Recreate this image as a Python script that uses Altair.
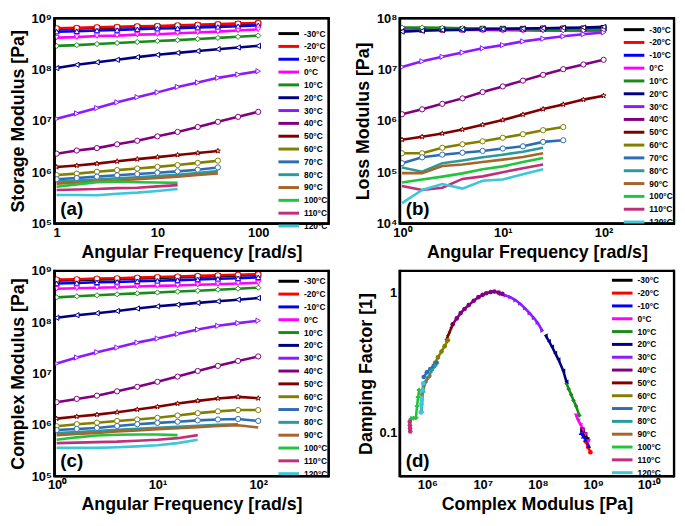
import altair as alt
import pandas as pd

FONT = "Liberation Sans"

temps = ["-30°C", "-20°C", "-10°C", "0°C", "10°C", "20°C", "30°C", "40°C",
         "50°C", "60°C", "70°C", "80°C", "90°C", "100°C", "110°C", "120°C"]
colors = ["#000000", "#ff0000", "#0000ff", "#ff00ff", "#1a8a1a", "#000080",
          "#8c1aff", "#800080", "#800000", "#808000", "#2e6db4", "#2a9a9a",
          "#a8652a", "#22c43c", "#c0307a", "#3cc8d8"]
STAR = "M0,-1L0.224,-0.309L0.951,-0.309L0.363,0.118L0.588,0.809L0,0.382L-0.588,0.809L-0.363,0.118L-0.951,-0.309L-0.224,-0.309Z"
shapes = ["square", "circle", "triangle-up", "triangle-down", "diamond", "triangle-left",
          "triangle-right", "circle", STAR, "circle", "circle", "cross", STAR, "cross",
          "circle", "circle"]
n_marked = 11  # series drawn with hollow markers in panels a-c

# angular frequency [rad/s]
freq = [1.0, 1.585, 2.512, 3.981, 6.310, 10.0, 15.85, 25.12, 39.81, 63.10, 100.0]

# (a) storage modulus [Pa]
storage = [
    [6.2e8, 6.3e8, 6.5e8, 6.6e8, 6.8e8, 6.9e8, 7.1e8, 7.3e8, 7.5e8, 7.7e8, 7.9e8],
    [6.4e8, 6.5e8, 6.7e8, 6.8e8, 7.0e8, 7.1e8, 7.3e8, 7.5e8, 7.7e8, 7.9e8, 8.1e8],
    [5.5e8, 5.6e8, 5.8e8, 5.9e8, 6.1e8, 6.3e8, 6.4e8, 6.6e8, 6.8e8, 7.0e8, 7.3e8],
    [4.2e8, 4.3e8, 4.5e8, 4.6e8, 4.8e8, 4.9e8, 5.1e8, 5.3e8, 5.5e8, 5.8e8, 6.1e8],
    [2.9e8, 3.0e8, 3.15e8, 3.3e8, 3.45e8, 3.6e8, 3.75e8, 3.95e8, 4.15e8, 4.35e8, 4.6e8],
    [1.07e8, 1.24e8, 1.39e8, 1.55e8, 1.75e8, 1.94e8, 2.12e8, 2.3e8, 2.5e8, 2.7e8, 2.9e8],
    [1.1e7, 1.4e7, 1.78e7, 2.3e7, 2.9e7, 3.6e7, 4.6e7, 5.6e7, 6.9e7, 8.0e7, 9.3e7],
    [2.3e6, 2.65e6, 2.95e6, 3.5e6, 4.1e6, 5.0e6, 6.1e6, 7.6e6, 9.6e6, 1.2e7, 1.5e7],
    [1.26e6, 1.35e6, 1.47e6, 1.63e6, 1.8e6, 1.97e6, 2.17e6, 2.37e6, 2.6e6],
    [8.8e5, 9.4e5, 1.02e6, 1.1e6, 1.18e6, 1.27e6, 1.38e6, 1.52e6, 1.68e6],
    [7.3e5, 7.7e5, 8.2e5, 8.7e5, 9.2e5, 9.8e5, 1.04e6, 1.12e6, 1.24e6],
    [6.6e5, 6.9e5, 7.2e5, 7.6e5, 8.0e5, 8.4e5, 8.9e5, 9.6e5, 1.05e6],
    [6.0e5, 6.3e5, 6.6e5, 6.9e5, 7.3e5, 7.7e5, 8.2e5, 8.8e5, 9.5e5],
    [5.2e5, 5.8e5, 6.4e5, 6.5e5, 6.4e5, 6.3e5, 6.2e5],
    [4.5e5, 4.6e5, 4.7e5, 4.9e5, 5.0e5, 5.3e5, 5.6e5],
    [3.6e5, 3.6e5, 3.55e5, 3.8e5, 4.0e5, 4.3e5, 4.7e5],
]

# (b) loss modulus [Pa]
loss = [
    [6.0e7, 6.0e7, 6.1e7, 6.1e7, 6.2e7, 6.2e7, 6.2e7, 6.3e7, 6.3e7, 6.3e7, 6.4e7],
    [5.9e7, 5.9e7, 5.9e7, 6.0e7, 6.0e7, 6.0e7, 6.0e7, 6.1e7, 6.1e7, 6.1e7, 6.1e7],
    [6.1e7, 6.1e7, 6.1e7, 6.2e7, 6.2e7, 6.2e7, 6.2e7, 6.3e7, 6.3e7, 6.3e7, 6.3e7],
    [6.0e7, 6.0e7, 5.95e7, 5.9e7, 5.9e7, 5.85e7, 5.8e7, 5.75e7, 5.7e7, 5.65e7, 5.6e7],
    [6.6e7, 6.6e7, 6.5e7, 6.4e7, 6.3e7, 6.2e7, 6.1e7, 6.0e7, 5.9e7, 5.9e7, 6.0e7],
    [5.5e7, 5.7e7, 5.9e7, 6.0e7, 6.1e7, 6.2e7, 6.3e7, 6.4e7, 6.5e7, 6.6e7, 6.8e7],
    [1.12e7, 1.45e7, 1.78e7, 2.15e7, 2.6e7, 3.0e7, 3.55e7, 4.0e7, 4.45e7, 4.9e7, 5.3e7],
    [1.35e6, 1.68e6, 2.15e6, 2.75e6, 3.65e6, 4.7e6, 6.1e6, 7.9e6, 1.02e7, 1.26e7, 1.55e7],
    [4.3e5, 4.9e5, 5.7e5, 6.8e5, 8.4e5, 1.04e6, 1.33e6, 1.7e6, 2.1e6, 2.6e6, 3.1e6],
    [2.34e5, 2.34e5, 3.0e5, 3.5e5, 4.0e5, 4.7e5, 5.5e5, 6.6e5, 7.6e5],
    [1.5e5, 1.95e5, 2.2e5, 2.4e5, 2.6e5, 2.9e5, 3.2e5, 3.9e5, 4.2e5],
    [1.23e5, 1.02e5, 1.5e5, 1.7e5, 1.95e5, 2.2e5, 2.5e5, 3.0e5],
    [9.6e4, 9.6e4, 1.32e5, 1.42e5, 1.58e5, 1.76e5, 1.98e5, 2.35e5],
    [6.3e4, 7.2e4, 8.2e4, 9.5e4, 1.14e5, 1.3e5, 1.58e5, 1.9e5],
    [5.4e4, 4.5e4, 5.0e4, 7.4e4, 8.3e4, 1.0e5, 1.2e5, 1.42e5],
    [2.5e4, 4.5e4, 5.9e4, 4.8e4, 6.8e4, 7.2e4, 9.1e4, 1.14e5],
]

# (c) complex modulus [Pa]
complex_mod = [
    [6.5e8, 6.6e8, 6.8e8, 6.9e8, 7.1e8, 7.3e8, 7.5e8, 7.7e8, 7.9e8, 8.1e8, 8.4e8],
    [6.8e8, 6.9e8, 7.1e8, 7.2e8, 7.4e8, 7.6e8, 7.8e8, 8.0e8, 8.2e8, 8.4e8, 8.6e8],
    [5.7e8, 5.8e8, 6.0e8, 6.1e8, 6.3e8, 6.4e8, 6.6e8, 6.8e8, 7.0e8, 7.2e8, 7.5e8],
    [4.5e8, 4.6e8, 4.7e8, 4.8e8, 4.95e8, 5.1e8, 5.2e8, 5.35e8, 5.5e8, 5.7e8, 5.85e8],
    [3.05e8, 3.2e8, 3.35e8, 3.5e8, 3.65e8, 3.8e8, 3.95e8, 4.1e8, 4.3e8, 4.5e8, 4.7e8],
    [1.22e8, 1.37e8, 1.5e8, 1.65e8, 1.85e8, 2.04e8, 2.2e8, 2.38e8, 2.55e8, 2.75e8, 2.96e8],
    [1.57e7, 2.05e7, 2.6e7, 3.2e7, 4.0e7, 4.8e7, 5.9e7, 7.2e7, 8.5e7, 9.6e7, 1.07e8],
    [2.76e6, 3.2e6, 3.7e6, 4.5e6, 5.5e6, 6.9e6, 8.7e6, 1.12e7, 1.41e7, 1.76e7, 2.15e7],
    [1.32e6, 1.45e6, 1.58e6, 1.76e6, 1.99e6, 2.25e6, 2.6e6, 2.93e6, 3.27e6, 3.5e6, 3.3e6],
    [9.4e5, 1.03e6, 1.1e6, 1.19e6, 1.27e6, 1.37e6, 1.52e6, 1.69e6, 1.83e6, 1.94e6, 1.94e6],
    [7.9e5, 8.3e5, 8.7e5, 9.5e5, 1.03e6, 1.09e6, 1.15e6, 1.22e6, 1.27e6, 1.3e6, 1.19e6],
    [6.9e5, 7.2e5, 7.6e5, 8.0e5, 8.4e5, 8.8e5, 9.2e5, 9.6e5, 1.0e6, 1.02e6],
    [6.3e5, 6.6e5, 6.9e5, 7.4e5, 7.8e5, 8.2e5, 8.6e5, 9.0e5, 9.5e5, 9.8e5, 8.9e5],
    [5.1e5, 5.7e5, 6.2e5, 6.4e5, 6.5e5, 6.5e5, 6.3e5],
    [4.4e5, 4.5e5, 4.6e5, 4.7e5, 4.9e5, 5.1e5, 5.5e5, 6.3e5],
    [3.55e5, 3.55e5, 3.55e5, 3.65e5, 3.8e5, 4.0e5, 4.4e5, 5.1e5],
]

# (d) damping factor vs complex modulus
damp_x = [
    [6.4e8, 7.1e8, 7.8e8],
    [7.3e8, 8.1e8, 8.9e8],
    [6.0e8, 6.6e8, 7.3e8, 8.3e8],
    [4.9e8, 5.4e8, 6.0e8, 6.6e8, 7.3e8, 8.3e8],
    [3.3e8, 3.6e8, 4.0e8, 4.4e8, 4.9e8, 5.6e8],
    [1.38e8, 1.58e8, 1.8e8, 2.05e8, 2.35e8, 2.87e8, 3.28e8],
    [2.13e7, 2.6e7, 3.17e7, 3.9e7, 4.73e7, 5.8e7, 7.06e7, 8.4e7, 9.86e7, 1.2e8],
    [2.87e6, 3.4e6, 4.0e6, 4.7e6, 5.6e6, 6.9e6, 8.4e6, 1.0e7, 1.16e7, 1.4e7, 1.63e7, 1.95e7, 2.27e7],
    [2.2e6, 2.35e6, 2.51e6, 2.7e6, 2.87e6],
    [1.38e6, 1.55e6, 1.8e6, 2.05e6, 2.35e6],
    [8.6e5, 9.8e5, 1.13e6, 1.3e6, 1.47e6],
    [7.8e5, 8.3e5, 9.2e5, 1.05e6, 1.2e6, 1.38e6],
    [7.8e5, 8.5e5, 9.2e5, 1.02e6, 1.13e6],
    [5.06e5, 5.6e5, 6.2e5, 6.5e5, 6.8e5, 7.1e5],
    [4.8e5, 4.82e5, 4.85e5, 4.9e5],
    [7.6e5, 7.8e5, 7.9e5, 8.1e5, 8.4e5],
]
damp_y = [
    [0.105, 0.097, 0.0895],
    [0.087, 0.079, 0.0726],
    [0.0995, 0.094, 0.0895, 0.0805],
    [0.133, 0.122, 0.113, 0.104, 0.097, 0.087],
    [0.225, 0.205, 0.187, 0.17, 0.155, 0.133],
    [0.494, 0.45, 0.411, 0.37, 0.333, 0.277, 0.231],
    [0.98, 0.955, 0.929, 0.885, 0.836, 0.775, 0.715, 0.66, 0.61, 0.535],
    [0.594, 0.655, 0.715, 0.765, 0.815, 0.875, 0.929, 0.965, 0.99, 1.01, 1.02, 1.0, 0.98],
    [0.457, 0.49, 0.521, 0.56, 0.594],
    [0.316, 0.345, 0.38, 0.415, 0.457],
    [0.25, 0.27, 0.285, 0.3, 0.316],
    [0.14, 0.196, 0.23, 0.25, 0.28, 0.3],
    [0.187, 0.215, 0.231, 0.245, 0.256],
    [0.126, 0.127, 0.128, 0.155, 0.18, 0.202],
    [0.12, 0.113, 0.107, 0.102],
    [0.14, 0.16, 0.173, 0.2, 0.225],
]

sup = "⁰¹²³⁴⁵⁶⁷⁸⁹"
pow_labels = ["10" + "".join(sup[int(c)] for c in str(k)) for k in range(0, 11)]
POW_EXPR = "[" + ",".join("'%s'" % s for s in pow_labels) + "][round(log(datum.value)/LN10)]"

W, H = 278, 208
mtemps = ["m" + t for t in temps]
LEG_SYMBOL = "M-2.2,0H2.2"


def long_df(xs_list, ys_list):
    rows = []
    for i, t in enumerate(temps):
        ys = ys_list[i]
        xs = xs_list[i] if isinstance(xs_list[0], list) else xs_list[:len(ys)]
        for x, y in zip(xs, ys):
            rows.append({"T": t, "M": "m" + t, "idx": i, "x": x, "y": y})
    return pd.DataFrame(rows)


def make_panel(df, xdom, xvals, xexpr, xtitle, ydom, yvals, yexpr, ytitle,
               letter, legx, legy, filled_markers):
    xs = alt.Scale(type="log", domain=xdom, nice=False)
    ys = alt.Scale(type="log", domain=ydom, nice=False)
    xax = alt.Axis(values=xvals, labelExpr=xexpr, title=xtitle)
    yax = alt.Axis(values=yvals, labelExpr=yexpr, title=ytitle)
    cscale = alt.Scale(domain=temps, range=colors)
    mscale = alt.Scale(domain=mtemps, range=colors)
    sscale = alt.Scale(domain=mtemps, range=shapes)
    leg = alt.Legend(orient="none", legendX=legx, legendY=legy, title=None,
                     symbolType=LEG_SYMBOL, symbolSize=90, symbolStrokeWidth=3,
                     labelFont=FONT, labelFontWeight="bold", labelFontSize=8.5,
                     labelColor="black", rowPadding=0, padding=0, labelOffset=9)
    line = alt.Chart(df).mark_line(strokeWidth=2.6, clip=True).encode(
        x=alt.X("x:Q", scale=xs, axis=xax),
        y=alt.Y("y:Q", scale=ys, axis=yax),
        color=alt.Color("T:N", scale=cscale, legend=leg, sort=temps),
        order=alt.Order("x:Q"),
    )
    if filled_markers:
        pts = alt.Chart(df).mark_point(filled=True, size=22, clip=True, opacity=1).encode(
            x="x:Q", y="y:Q",
            fill=alt.Fill("M:N", scale=mscale, legend=None),
            shape=alt.Shape("M:N", scale=sscale, legend=None),
        )
    else:
        pts = alt.Chart(df[df["idx"] < n_marked]).mark_point(
            fill="white", fillOpacity=1, size=28, strokeWidth=1, clip=True, opacity=1).encode(
            x="x:Q", y="y:Q",
            stroke=alt.Stroke("M:N", scale=mscale, legend=None),
            shape=alt.Shape("M:N", scale=sscale, legend=None),
        )
    txt = alt.Chart(pd.DataFrame({"t": [letter]})).mark_text(
        font=FONT, fontWeight="bold", fontSize=19, align="left", baseline="middle", color="black"
    ).encode(text="t:N", x=alt.value(6), y=alt.value(H - 15))
    # frame: thin filled bands along the four edges of the plot area
    fdf = pd.DataFrame({"f": [0]})
    bands = [
        (0, W, -1.2, 1.2),
        (0, W, H - 1.2, H + 1.2),
        (-1.2, 1.2, -1.2, H + 1.2),
        (W - 1.2, W + 1.2, -1.2, H + 1.2),
    ]
    edges = []
    for x0, x1, y0, y1 in bands:
        edges.append(alt.Chart(fdf).mark_rect(fill="#000000", opacity=1).encode(
            x=alt.value(x0), x2=alt.value(x1), y=alt.value(y0), y2=alt.value(y1)))
    return alt.layer(line, pts, txt, *edges).properties(width=W, height=H)


xdom_f = [0.95, 500]
pa = make_panel(long_df(freq, storage), xdom_f, [1, 10, 100], "'' + datum.value",
                "Angular Frequency [rad/s]", [1e5, 1e9], [1e5, 1e6, 1e7, 1e8, 1e9], POW_EXPR,
                "Storage Modulus [Pa]", "(a)", W - 47, 9, False)
pb = make_panel(long_df(freq, loss), xdom_f, [1, 10, 100], POW_EXPR,
                "Angular Frequency [rad/s]", [1e4, 1e8], [1e4, 1e5, 1e6, 1e7, 1e8], POW_EXPR,
                "Loss Modulus [Pa]", "(b)", W - 47, 5, False)
pc = make_panel(long_df(freq, complex_mod), xdom_f, [1, 10, 100], POW_EXPR,
                "Angular Frequency [rad/s]", [1e5, 1e9], [1e5, 1e6, 1e7, 1e8, 1e9], POW_EXPR,
                "Complex Modulus [Pa]", "(c)", W - 47, 4, False)
pd_ = make_panel(long_df(damp_x, damp_y), [3.16e5, 2.9e10], [1e6, 1e7, 1e8, 1e9, 1e10], POW_EXPR,
                 "Complex Modulus [Pa]", [0.049, 1.43], [0.1, 1], "datum.label",
                 "Damping Factor [1]", "(d)", W - 59, 3, True)

chart = alt.concat(pa, pb, pc, pd_, columns=2, spacing={"row": 2, "column": 22}).resolve_scale(
    color="independent", stroke="independent", fill="independent", shape="independent",
    x="independent", y="independent"
).properties(
    padding={"left": 0, "top": 0, "right": 0, "bottom": 0}
).configure(
    background="white"
).configure_view(
    stroke="#000000", strokeWidth=2
).configure_axis(
    grid=False, domain=True, domainColor="#000000", domainWidth=2, ticks=False,
    labelFont=FONT, labelFontWeight="bold", labelFontSize=13, labelColor="black", labelPadding=3,
    titleFont=FONT, titleFontWeight="bold", titleFontSize=18, titleColor="black", titlePadding=4,
    labelOverlap=False, labelFlush=False
)

chart.save("out.html", embed_options={"renderer": "svg", "actions": False})
